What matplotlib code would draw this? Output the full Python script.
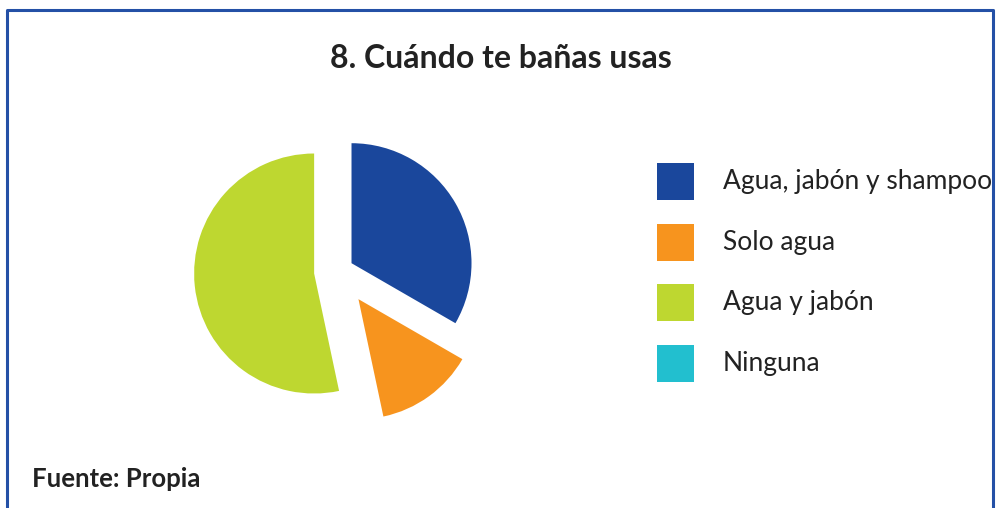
import matplotlib.pyplot as plt
from matplotlib.patches import Rectangle
from matplotlib.lines import Line2D

# data
labels = ['Agua, jabón y shampoo', 'Solo agua', 'Agua y jabón', 'Ninguna']
counts = [5, 2, 8, 0]
colors = ['#1a479c', '#f7941e', '#bed730', '#22bfcf']
explode = [0.13, 0.29, 0.20, 0.0]

W, H = 997, 508
plt.rcParams['font.family'] = ['Lato', 'DejaVu Sans']

fig = plt.figure(figsize=(W / 100, H / 100), dpi=100)
fig.patch.set_facecolor('white')

# blue frame (bottom edge runs off the picture)
frame = Line2D([7 / W, 7 / W, 993 / W, 993 / W], [-0.1, 1 - 10 / H, 1 - 10 / H, -0.1],
               transform=fig.transFigure, color='#2450a6', lw=2.2)
fig.lines.append(frame)

# pie: 1 unit = 120 px
cx, cy, side = 338, 271, 300
ax = fig.add_axes([(cx - side / 2) / W, (H - cy - side / 2) / H, side / W, side / H])
ax.pie(counts, colors=colors, explode=explode, startangle=90, counterclock=False,
       wedgeprops=dict(linewidth=0))
ax.set_xlim(-1.25, 1.25)
ax.set_ylim(-1.25, 1.25)
ax.set_aspect('equal')
ax.axis('off')

fig.text(501 / W, 1 - 58 / H, '8. Cuándo te bañas usas', ha='center', va='center',
         fontsize=23, fontweight='bold', color='#222222')

# legend
for i, (lab, col) in enumerate(zip(labels, colors)):
    yc = 181.5 + 60.7 * i
    fig.patches.append(Rectangle((657 / W, 1 - (yc + 18.5) / H), 37 / W, 37 / H,
                                 transform=fig.transFigure, color=col, lw=0))
    fig.text(723 / W, 1 - yc / H, lab, ha='left', va='center', fontsize=19, color='#222222')

fig.text(32 / W, 1 - 479 / H, 'Fuente: Propia', ha='left', va='center',
         fontsize=18.5, fontweight='bold', color='#222222')

fig.savefig('out.png', dpi=100)
